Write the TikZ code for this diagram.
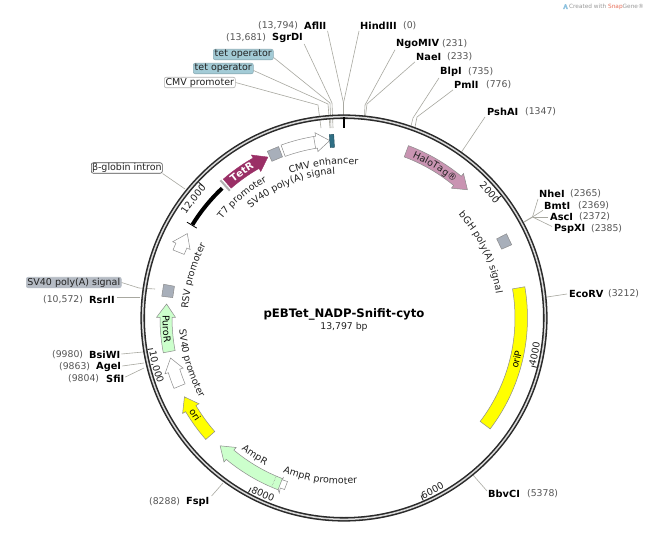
\documentclass[tikz,border=0pt]{standalone}
\usepackage{fontspec}
\setmainfont{DejaVu Sans}
\usetikzlibrary{decorations.text}
\definecolor{ringc}{HTML}{2A2A2A}
\definecolor{lead}{HTML}{A8A8A0}
\definecolor{lblc}{HTML}{222222}
\definecolor{numc}{HTML}{555555}
\definecolor{edgec}{HTML}{8C8C8C}
\definecolor{tetc}{HTML}{A3CBD6}
\definecolor{greyf}{HTML}{A8AFBA}
\definecolor{purp}{HTML}{9A2F66}
\definecolor{halo}{HTML}{C994B2}
\definecolor{grn}{HTML}{CCFFCC}
\definecolor{yel}{HTML}{FFFF00}
\definecolor{teal}{HTML}{2F6F85}
\definecolor{snapc}{HTML}{E8705A}
\definecolor{iconc}{HTML}{8FC3E0}
\newcommand\lblfont{\fontsize{9.5}{11}\selectfont\color{lblc}}
\newcommand\blackfont{\fontsize{9.5}{11}\selectfont\color{black}}
\newcommand\whitefont{\fontsize{9.8}{11}\selectfont\bfseries\color{white}}
\newcommand\cwtext[4][\lblfont]{%
  \pgfmathsetmacro\ta{90-(#3)+45}\pgfmathsetmacro\tb{90-(#3)-45}%
  \path[decorate,decoration={text along path,text align=center,text={|#1|#4}}]
    (\ta:#2) arc[start angle=\ta,end angle=\tb,radius=#2];}
\newcommand\ccwtext[4][\lblfont]{%
  \pgfmathsetmacro\ta{90-(#3)-45}\pgfmathsetmacro\tb{90-(#3)+45}%
  \path[decorate,decoration={text along path,text align=center,text={|#1|#4}}]
    (\ta:#2) arc[start angle=\ta,end angle=\tb,radius=#2];}
% tail angle, tip angle (clockwise from top), style
\newcommand\featarrow[3]{%
  \pgfmathsetmacro\ta{90-(#1)}\pgfmathsetmacro\tb{90-(#2)}%
  \pgfmathsetmacro\th{\tb+((#1)<(#2)?4.3:-4.3)}%
  \draw[#3] (\ta:172) arc[start angle=\ta,end angle=\th,radius=172] -- (\th:168.5) -- (\tb:178) -- (\th:187.5) -- (\th:184) arc[start angle=\th,end angle=\ta,radius=184] -- cycle;}
\newcommand\tick[1]{\draw[ringc,line width=.9pt] (90-#1:199) -- (90-#1:193.5);}
\tikzset{
  x=1pt,y=1pt,
  site/.style={font=\fontsize{9.8}{11}\selectfont\bfseries,text=black,inner sep=0pt,anchor=west},
  num/.style={font=\fontsize{9.3}{11}\selectfont,text=numc,inner sep=0pt,anchor=west},
  leader/.style={draw=lead,line width=.6pt},
  tag/.style={font=\fontsize{9.5}{11}\selectfont,text=lblc,rounded corners=2pt,line width=.6pt,inner sep=0pt,minimum height=10.5pt,anchor=west},
  feat/.style={draw=edgec,line width=.5pt},
}
\begin{document}
\begin{tikzpicture}
\useasboundingbox (0,0) rectangle (649,-541);
\fill[white] (0,0) rectangle (649,-541);

% ---- site labels
\node[num]  (n0)  at (403,-26) {(0)};
\node[site] (hind) at (360,-26) {HindIII};
\node[num]  at (258,-26) {(13,794)};
\node[site] (afl) at (304,-26) {AflII};
\node[num]  at (226,-38) {(13,681)};
\node[site] (sgr) at (272,-38) {SgrDI};
\node[site] (ngo) at (396,-44) {NgoMIV};
\node[num]  at (442,-44) {(231)};
\node[site] (nae) at (416,-57) {NaeI};
\node[num]  at (447,-57) {(233)};
\node[site] (blp) at (440,-72) {BlpI};
\node[num]  at (468,-72) {(735)};
\node[site] (pml) at (454,-85) {PmlI};
\node[num]  at (486,-85) {(776)};
\node[site] (psh) at (487,-112) {PshAI};
\node[num]  at (525,-112) {(1347)};
\node[site] (nhe) at (539,-194) {NheI};
\node[num]  at (570,-194) {(2365)};
\node[site] (bmt) at (544,-205.5) {BmtI};
\node[num]  at (578,-205.5) {(2369)};
\node[site] (asc) at (550,-217) {AscI};
\node[num]  at (579,-217) {(2372)};
\node[site] (psp) at (554,-228.5) {PspXI};
\node[num]  at (591,-228.5) {(2385)};
\node[site] (eco) at (569,-294) {EcoRV};
\node[num]  at (608,-294) {(3212)};
\node[site] (bbv) at (488,-494) {BbvCI};
\node[num]  at (527,-494) {(5378)};
\node[site] (fsp) at (186,-502) {FspI};
\node[num]  at (149,-502) {(8288)};
\node[site] (sfi) at (106,-379) {SfiI};
\node[num]  at (68,-379) {(9804)};
\node[site] (age) at (96,-367) {AgeI};
\node[num]  at (59,-367) {(9863)};
\node[site] (bsi) at (89,-355) {BsiWI};
\node[num]  at (52,-355) {(9980)};
\node[site] (rsr) at (89,-300) {RsrII};
\node[num]  at (43,-300) {(10,572)};

% ---- boxed labels
\node[tag,fill=tetc,draw=tetc!85!black,minimum width=60pt] (tet1) at (213,-54.5) {tet operator};
\node[tag,fill=tetc,draw=tetc!85!black,minimum width=60pt] (tet2) at (193,-68.5) {tet operator};
\node[tag,fill=white,draw=black!30,minimum width=71pt] (cmvp) at (164,-82.5) {CMV promoter};
\node[tag,fill=greyf!85!white,draw=greyf!85!white,minimum width=95pt] (svp) at (26,-282.5) {SV40 poly(A) signal};
\node[tag,fill=white,draw=black!70,minimum width=71pt] (glo) at (91,-168) {β-globin intron};

% ---- centre text
\node[inner sep=0pt,font=\fontsize{11.7}{13}\selectfont\bfseries,text=black] (title) at (344,-314) {pEBTet\_NADP-Snifit-cyto};
\node[inner sep=0pt,font=\fontsize{9.3}{11}\selectfont,text=lblc] (size) at (344,-327) {13,797 bp};

% ---- leader end points
\coordinate (kHind) at (343.5,-103);
\coordinate (rHind) at (343.5,-116);
\coordinate (kSgr) at (332,-103);
\coordinate (rSgr) at (333,-128);
\coordinate (kTet1) at (330,-103);
\coordinate (rTet1) at (331,-128);
\coordinate (kTet2) at (328,-104);
\coordinate (rTet2) at (330,-128);
\coordinate (kCmv) at (318,-105);
\coordinate (rCmv) at (321,-128);
\coordinate (kNgo) at (365,-105);
\coordinate (rNgo) at (364.5,-116);
\coordinate (kNae) at (367,-104);
\coordinate (rNae) at (365.5,-116);
\coordinate (kBlp) at (413,-118);
\coordinate (rBlp) at (411,-126);
\coordinate (kPml) at (417,-117);
\coordinate (rPml) at (415,-127);
\coordinate (rPsh) at (461.5,-152);
\coordinate (hubA) at (532.5,-217);
\coordinate (rHub) at (524,-222);
\coordinate (rEco) at (547,-297);
\coordinate (rBbv) at (473,-475);
\coordinate (rFsp) at (223,-483);
\coordinate (rSfi) at (144,-368);
\coordinate (rAge) at (144,-363);
\coordinate (rBsi) at (143,-352);
\coordinate (rRsr) at (140,-297);
\coordinate (kSvp) at (139,-288);
\coordinate (rSvp) at (155,-289);
\coordinate (rGlo) at (185,-189);

\draw[leader] (hind.south west) ++(-1,-1) -- (kHind) -- (rHind);
\draw[leader] (afl.south east) ++(1,-1) -- (kHind);
\draw[leader] (sgr.south east) ++(1,-1) -- (kSgr) -- (rSgr);
\draw[leader] (tet1.east) ++(0,-3) -- (kTet1) -- (rTet1);
\draw[leader] (tet2.east) ++(0,-2) -- (kTet2) -- (rTet2);
\draw[leader] (cmvp.east) -- (kCmv) -- (rCmv);
\draw[leader] (ngo.south west) ++(-1,-1) -- (kNgo) -- (rNgo);
\draw[leader] (nae.south west) ++(-1,-1) -- (kNae) -- (rNae);
\draw[leader] (blp.south west) ++(-1,-1) -- (kBlp) -- (rBlp);
\draw[leader] (pml.south west) ++(-1,-1) -- (kPml) -- (rPml);
\draw[leader] (psh.south west) ++(-2,-1) -- (rPsh);
\draw[leader] (nhe.south west) ++(-1,-1) -- (hubA);
\draw[leader] (bmt.south west) ++(-1,-1) -- (hubA);
\draw[leader] (asc.west) ++(-2,0) -- (hubA);
\draw[leader] (psp.west) ++(-2,2) -- (hubA);
\draw[leader,line width=1pt] (hubA) -- (rHub);
\draw[leader] (eco.west) ++(-2,0) -- (rEco);
\draw[leader] (bbv.north west) ++(-1,-1) -- (rBbv);
\draw[leader] (fsp.east) ++(2,6) -- (rFsp);
\draw[leader] (sfi.east) ++(1,2) -- (rSfi);
\draw[leader] (age.east) ++(1,1) -- (rAge);
\draw[leader] (bsi.east) ++(1,1) -- (rBsi);
\draw[leader] (rsr.east) ++(2,3) -- (rRsr);
\draw[leader] (svp.east) -- (kSvp) -- (rSvp);
\draw[leader] (glo.south east) -- (rGlo);

% ---- AmpR promoter (short arrow, tip under the AmpR bar)
\draw[fill=white,feat] (276,-484) -- (283.3,-477.7) -- (282.6,-480) -- (287.5,-481.5) -- (284.5,-489.5) -- (280.2,-488) -- (279.3,-493) -- cycle;

\begin{scope}[shift={(344,-318)}]
% ---- ring
\draw[ringc,line width=4.6pt] (0,0) circle[radius=201.3];
\draw[black!15,line width=1.5pt] (0,0) circle[radius=201.3];
% ---- ticks
\tick{52.18}\tick{104.36}\tick{156.53}\tick{208.71}\tick{260.89}\tick{313.07}
\draw[black,line width=1.8pt] (90:201) -- (90:190);
% ---- tick labels
\cwtext{189}{49.3}{2000}
\ccwtext{197.5}{100.7}{4000}
\ccwtext{197.5}{152.9}{6000}
\ccwtext{197.5}{204.7}{8000}
\ccwtext{197.5}{255.4}{10,000}
\cwtext{189}{-51.7}{12,000}
% ---- features
\featarrow{-20}{-4.6}{fill=white,feat}
\draw[feat] (90+9.5:172) -- (90+9.5:184);
\draw[fill=teal,draw=teal!70!black,line width=.4pt] (90+3.2:171) arc[start angle=93.2,end angle=94.6,radius=171] -- (94.6:184) arc[start angle=94.6,end angle=93.2,radius=184] -- cycle;
\draw[fill=greyf,draw=edgec,line width=.5pt] (112.8-1.9:172.5) -- (112.8+1.9:172.5) -- (112.8+1.9:183.5) -- (112.8-1.9:183.5) -- cycle;
\featarrow{-41}{-25.3}{fill=purp,draw=purp}
\draw[black!30,line width=2pt] (131.9:171) -- (131.9:185);
\draw[black,line width=4pt] (133.2:178) arc[start angle=133.2,end angle=148.4,radius=178];
\draw[black,line width=.8pt] (148.6:172.5) -- (148.6:184);
\featarrow{-68.3}{-61.7}{fill=white,feat}
\draw[fill=greyf,draw=edgec,line width=.5pt] (171.3-1.9:172.5) -- (171.3+1.9:172.5) -- (171.3+1.9:183.5) -- (171.3-1.9:183.5) -- cycle;
\featarrow{-100.9}{-85.5}{fill=grn,feat}
\featarrow{-112.5}{-103}{fill=white,feat}
\featarrow{-131.3}{-116.3}{fill=yel,feat}
\featarrow{-159}{-135.9}{fill=grn,feat}
\draw[edgec,densely dotted,line width=.5pt] (90+156.8:172) -- (90+156.8:184);
\featarrow{20.5}{43.9}{fill=halo,feat}
\draw[fill=greyf,draw=edgec,line width=.5pt] (25.5-1.9:172) -- (25.5+1.9:172) -- (25.5+1.9:183) -- (25.5-1.9:183) -- cycle;
\draw[fill=yel,feat] (9.8:171) arc[start angle=9.8,end angle=-37.2,radius=171] -- (-37.2:183.5) arc[start angle=-37.2,end angle=9.8,radius=183.5] -- cycle;
% ---- labels
\cwtext{154}{-7.6}{CMV enhancer}
\cwtext{144}{-22}{SV40 poly(A) signal}
\cwtext{157}{-40.2}{T7 promoter}
\cwtext{156}{-74.4}{RSV promoter}
\cwtext{154}{64.5}{bGH poly(A) signal}
\ccwtext{165}{-106.5}{SV40 promoter}
\ccwtext{167}{-147}{AmpR}
\ccwtext{166}{-171.5}{AmpR promoter}
\cwtext[\whitefont]{175}{-35}{TetR}
\ccwtext[\blackfont]{181.5}{-93.5}{PuroR}
\ccwtext[\blackfont]{181}{-123}{ori}
\cwtext{174.5}{31}{HaloTag®}
\ccwtext[\blackfont]{181}{103.5}{oriP}
\end{scope}

% ---- watermark
\fill[iconc] (563,-9) -- (565,-4) -- (566,-4) -- (568,-9) -- (566.4,-9) -- (565.5,-6.5) -- (564.5,-9) -- cycle;
\node[inner sep=0pt,anchor=east,font=\fontsize{5.8}{8}\selectfont,text=black!40] (mark) at (644,-6.5) {Created with \textcolor{snapc}{Snap}Gene®};
\end{tikzpicture}
\end{document}
